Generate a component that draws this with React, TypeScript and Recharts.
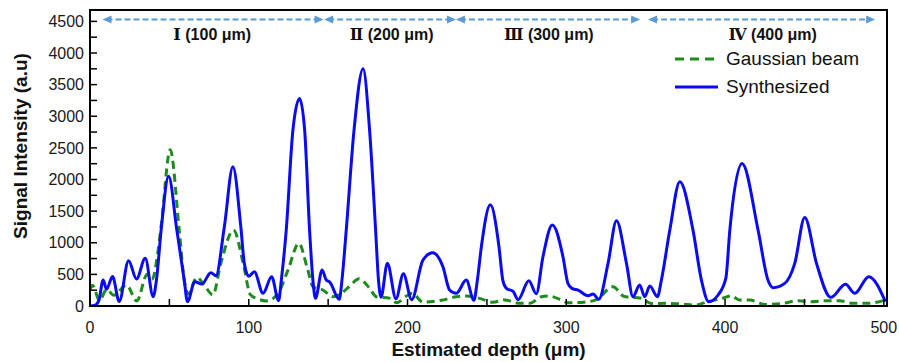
import React from 'react';
import {
  LineChart, Line, XAxis, YAxis, ReferenceLine, ReferenceDot, ReferenceArea,
} from 'recharts';

// ---- data ----
const synthDepth = [
  0, 3, 5.5, 8.3, 10.4, 14.2, 18.4, 24.3, 29.3, 34.8, 39.8, 41.8, 45, 49.5, 54.7, 59.4, 61.4,
  66, 70.5, 76.1, 79.3, 84.6, 90, 95, 97.2, 100, 103.5, 109, 114.4, 118.8, 120.5, 123.6, 127.8,
  132, 135.2, 138.3, 140.4, 142, 146.2, 148.8, 150.9, 157, 158.7, 161.4, 166.3, 172, 176.1,
  179.9, 181.7, 183.3, 187.3, 192.7, 197.4, 202.6, 209.7, 215.8, 222.3, 226.5, 230.7, 237,
  241.8, 244, 246.5, 252.2, 257.6, 260, 262.3, 266.5, 269.6, 276.4, 281.1, 285.3, 291.2, 297.9,
  301, 303.5, 307.4, 313.7, 316.9, 320.4, 326.3, 331.6, 337.9, 342, 346.2, 349.4, 352.6, 357.4,
  359.9, 365.2, 371.5, 379.8, 385.1, 389.7, 395.6, 400.5, 403, 410.7, 420.8, 427, 430.2, 437.6,
  443.9, 450.2, 457.6, 466.6, 475.9, 481.7, 490.5, 501,
];
const synthSignal = [
  0, 10, 80, 410, 265, 465, 70, 716, 426, 753, 147, 400, 1250, 2050, 1200, 400, 68,
  384, 347, 526, 479, 1250, 2200, 1250, 674, 470, 540, 200, 463, 84, 410, 1200, 2780,
  3280, 2780, 1200, 410, 121, 570, 410, 380, 105, 410, 1200, 2780, 3750, 2780,
  1200, 410, 140, 674, 115, 510, 100, 726, 840, 621, 253, 200, 410,
  90, 410, 937, 1600, 937, 410, 279, 230, 100, 400, 195, 779, 1280, 779,
  360, 279, 250, 163, 190, 105, 674, 1348, 674, 147, 332, 147, 316, 147,
  410, 1200, 1965, 1200, 410, 68, 174, 440, 1200, 2255, 1200, 410, 290, 358,
  674, 1400, 674, 137, 342, 200, 463, 68,
];

const gaussDepth = [
  0, 1.5, 6, 10.5, 15, 23, 29.5, 36, 39, 42.7, 45, 50.5, 56.2, 59.3, 62, 67.3, 72, 77.4,
  82.4, 90.4, 96.5, 101, 105, 111, 118, 124.7, 131.5, 137.2, 140.4, 146.7, 153, 157, 163,
  169.5, 176.1, 180.3, 189, 193, 200.3, 203, 209.7, 222.3, 230.7, 237, 245.4, 253.8, 261.2,
  270.6, 276.9, 284.3, 288.5, 296.9, 301, 311, 319, 329.4, 336.5, 347.3, 353.6, 364, 373.5,
  381, 389, 398, 404, 409, 415.6, 425, 436.6, 446, 454.4, 462.8, 472, 480.5, 490, 501,
];
const gaussSignal = [
  260, 330, 90, 260, 170, 330, 80, 500, 420, 840, 1300, 2470, 1200, 420, 190, 453, 330, 174,
  674, 1200, 674, 180, 120, 80, 180, 568, 990, 568, 305, 253, 147, 180, 300,
  430, 279, 147, 120, 52, 174, 200, 60, 95, 147, 160, 121, 60, 95,
  42, 42, 147, 160, 95, 50, 60, 100, 305, 150, 121, 40, 42, 30,
  15, 68, 120, 160, 95, 95, 25, 42, 84, 68, 84, 84, 42, 42, 95,
];

const xMajorTicks = [0, 100, 200, 300, 400, 500];
const xAllTicks = [0, 50, 100, 150, 200, 250, 300, 350, 400, 450, 500];
const yMajorTicks = [0, 500, 1000, 1500, 2000, 2500, 3000, 3500, 4000, 4500];
const yAllTicks = [
  0, 250, 500, 750, 1000, 1250, 1500, 1750, 2000, 2250, 2500, 2750, 3000, 3250,
  3500, 3750, 4000, 4250, 4500,
];

const regionNumerals = ['Ⅰ', 'Ⅱ', 'Ⅲ', 'Ⅳ'];
const regionTexts = ['(100 μm)', '(200 μm)', '(300 μm)', '(400 μm)'];
const regionStart = [10.4, 150, 233, 354];
const regionEnd = [144.6, 228, 344, 492];
const regionLabelX = [77, 190, 289, 430];

const legendNames = ['Gaussian beam', 'Synthesized'];

const synthData = synthDepth.map((x, i) => ({ x, y: synthSignal[i] }));
const gaussData = gaussDepth.map((x, i) => ({ x, y: gaussSignal[i] }));

const SANS = '"Liberation Sans", Arial, sans-serif';
const ARROW_Y = 4530;
const LABEL_Y = 4300;
const ARROW_COLOR = '#5B9BD5';
const BLUE = '#0A0AF5';
const GREEN = '#1C8C1C';

const ArrowHead = (dir: 'left' | 'right') => (props: any) => {
  const { cx, cy } = props;
  if (cx == null || cy == null) return <g />;
  const s = dir === 'left' ? -1 : 1;
  return (
    <polygon
      points={`${cx + s * 4},${cy} ${cx - s * 5},${cy - 4} ${cx - s * 5},${cy + 4}`}
      fill={ARROW_COLOR}
    />
  );
};

const RegionLabel = (i: number) => (props: any) => {
  const { cx, cy } = props;
  if (cx == null || cy == null) return <g />;
  return (
    <text x={cx} y={cy} textAnchor="middle" dominantBaseline="central" fontWeight="bold" fontSize={16} fill="#111">
      <tspan fontFamily='"DejaVu Serif", "Liberation Serif", serif'>{regionNumerals[i]}</tspan>
      <tspan fontFamily={SANS}>{' ' + regionTexts[i]}</tspan>
    </text>
  );
};

const LegendBox = () => (
  <div
    style={{
      position: 'absolute', left: 674, top: 45, fontFamily: SANS, fontSize: 19,
      color: '#111', lineHeight: '28px',
    }}
  >
    <div style={{ display: 'flex', alignItems: 'center', height: 28 }}>
      <svg width={52} height={10}>
        <line x1={1} y1={5} x2={44} y2={5} stroke={GREEN} strokeWidth={3} strokeDasharray="9 6" />
      </svg>
      <span>{legendNames[0]}</span>
    </div>
    <div style={{ display: 'flex', alignItems: 'center', height: 28 }}>
      <svg width={52} height={10}>
        <line x1={1} y1={5} x2={44} y2={5} stroke={BLUE} strokeWidth={3} />
      </svg>
      <span>{legendNames[1]}</span>
    </div>
  </div>
);

const tickStyle = { fontFamily: SANS, fontSize: 16, fill: '#1a1a1a' };

export default function App() {
  return (
    <div style={{ position: 'absolute', left: 0, top: 0, width: 899, height: 362, background: '#fff' }}>
      <LineChart
        width={899}
        height={362}
        margin={{ top: 10, right: 12, bottom: 26, left: 30 }}
      >
        <XAxis
          type="number"
          dataKey="x"
          domain={[0, 502]}
          ticks={xAllTicks}
          interval={0}
          allowDataOverflow
          height={30}
          tickFormatter={(v: number) => (xMajorTicks.includes(v) ? String(v) : '')}
          tick={tickStyle}
          tickSize={-7}
          tickMargin={23}
          axisLine={{ stroke: '#000', strokeWidth: 2 }}
          tickLine={{ stroke: '#000', strokeWidth: 1.5 }}
          label={{
            value: 'Estimated depth (μm)',
            position: 'bottom',
            offset: 7,
            style: { fontFamily: SANS, fontSize: 19, fontWeight: 'bold', fill: '#111' },
          }}
        />
        <YAxis
          type="number"
          domain={[0, 4680]}
          ticks={yAllTicks}
          interval={0}
          allowDataOverflow
          width={60}
          tickFormatter={(v: number) => (yMajorTicks.includes(v) ? String(v) : '')}
          tick={tickStyle}
          tickSize={-7}
          tickMargin={13}
          axisLine={{ stroke: '#000', strokeWidth: 2 }}
          tickLine={{ stroke: '#000', strokeWidth: 1.5 }}
          label={{
            value: 'Signal Intensity (a.u)',
            angle: -90,
            position: 'insideLeft',
            offset: -10,
            dy: -12,
            style: { fontFamily: SANS, fontSize: 19, fontWeight: 'bold', fill: '#111', textAnchor: 'middle' },
          }}
        />
        <ReferenceArea x1={0} x2={502} y1={0} y2={4680} fill="none" stroke="#000" strokeWidth={2} />
        {regionStart.map((s, i) => (
          <ReferenceLine
            key={'rl' + i}
            segment={[{ x: s, y: ARROW_Y }, { x: regionEnd[i], y: ARROW_Y }]}
            stroke={ARROW_COLOR}
            strokeWidth={2}
            strokeDasharray="6 3"
          />
        ))}
        {regionStart.map((s, i) => (
          <ReferenceDot key={'al' + i} x={s} y={ARROW_Y} r={0} shape={ArrowHead('left')} />
        ))}
        {regionEnd.map((e, i) => (
          <ReferenceDot key={'ar' + i} x={e} y={ARROW_Y} r={0} shape={ArrowHead('right')} />
        ))}
        {regionLabelX.map((lx, i) => (
          <ReferenceDot key={'lb' + i} x={lx} y={LABEL_Y} r={0} shape={RegionLabel(i)} />
        ))}
        <Line
          data={gaussData}
          dataKey="y"
          type="monotone"
          stroke={GREEN}
          strokeWidth={3}
          strokeDasharray="8 5"
          dot={false}
          activeDot={false}
          isAnimationActive={false}
          name="Gaussian beam"
        />
        <Line
          data={synthData}
          dataKey="y"
          type="monotone"
          stroke={BLUE}
          strokeWidth={3}
          dot={false}
          activeDot={false}
          isAnimationActive={false}
          name="Synthesized"
        />
      </LineChart>
      <LegendBox />
    </div>
  );
}
